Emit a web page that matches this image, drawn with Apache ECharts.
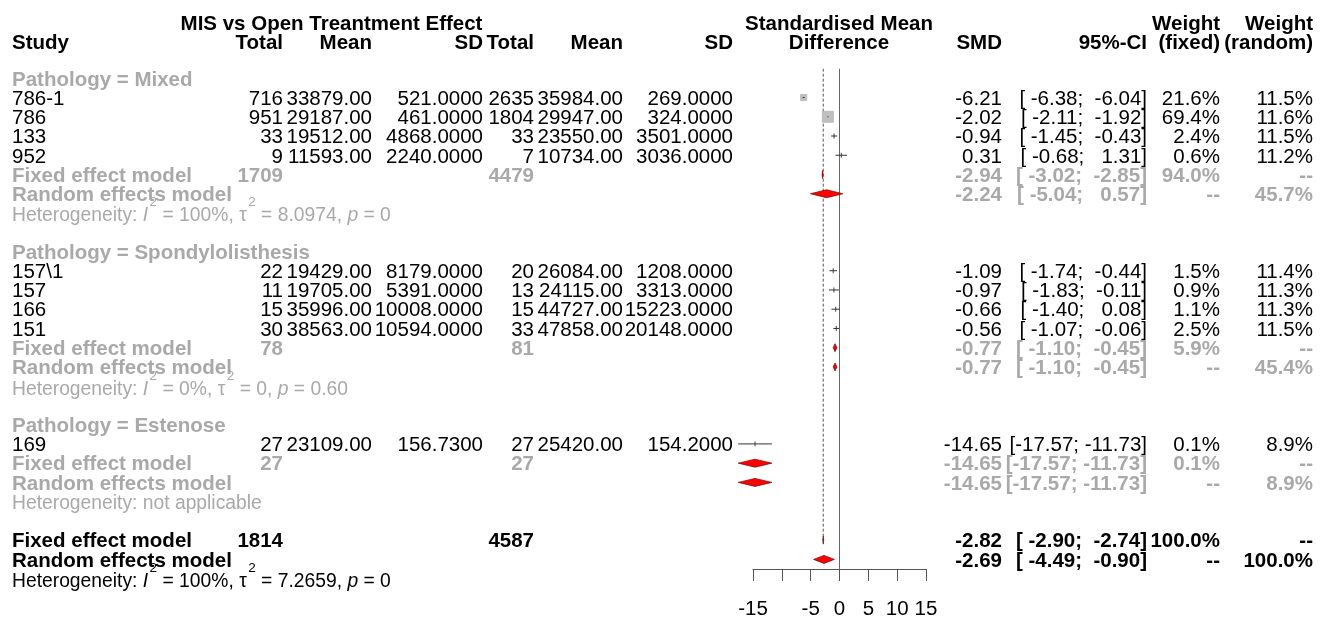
<!DOCTYPE html>
<html><head><meta charset="utf-8">
<script src="https://cdn.jsdelivr.net/npm/echarts@6/dist/echarts.min.js"></script>
<style>html,body{margin:0;padding:0;background:#fff}#c{width:1330px;height:620px}</style>
</head><body><div id="c"></div>
<script>
// ---------------- data ----------------
const groups = ['Mixed', 'Spondylolisthesis', 'Estenose'];
const studyNames = ['786-1', '786', '133', '952', '157\\1', '157', '166', '151', '169'];
const studyGroup = [0, 0, 0, 0, 1, 1, 1, 1, 2];
const expTotal = [716, 951, 33, 9, 22, 11, 15, 30, 27];
const expMean = [33879, 29187, 19512, 11593, 19429, 19705, 35996, 38563, 23109];
const expSD = [521, 461, 4868, 2240, 8179, 5391, 10008, 10594, 156.73];
const ctlTotal = [2635, 1804, 33, 7, 20, 13, 15, 33, 27];
const ctlMean = [35984, 29947, 23550, 10734, 26084, 24115, 44727, 47858, 25420];
const ctlSD = [269, 324, 3501, 3036, 1208, 3313, 15223, 20148, 154.2];
const smd = [-6.21, -2.02, -0.94, 0.31, -1.09, -0.97, -0.66, -0.56, -14.65];
const ciLow = [-6.38, -2.11, -1.45, -0.68, -1.74, -1.83, -1.40, -1.07, -17.57];
const ciHigh = [-6.04, -1.92, -0.43, 1.31, -0.44, -0.11, 0.08, -0.06, -11.73];
const weightFixed = [21.6, 69.4, 2.4, 0.6, 1.5, 0.9, 1.1, 2.5, 0.1];
const weightRandom = [11.5, 11.6, 11.5, 11.2, 11.4, 11.3, 11.3, 11.5, 8.9];

const subTotalExp = [1709, 78, 27];
const subTotalCtl = [4479, 81, 27];
const subFixedEst = [-2.94, -0.77, -14.65];
const subFixedLow = [-3.02, -1.10, -17.57];
const subFixedHigh = [-2.85, -0.45, -11.73];
const subFixedWeight = [94.0, 5.9, 0.1];
const subRandomEst = [-2.24, -0.77, -14.65];
const subRandomLow = [-5.04, -1.10, -17.57];
const subRandomHigh = [0.57, -0.45, -11.73];
const subRandomWeight = [45.7, 45.4, 8.9];
const subI2 = ['100%', '0%', null];
const subTau2 = ['8.0974', '0', null];
const subP = ['0', '0.60', null];

const overallTotalExp = 1814;
const overallTotalCtl = 4587;
const overallFixed = [-2.82, -2.90, -2.74];
const overallRandom = [-2.69, -4.49, -0.90];
const overallFixedWeight = 100.0;
const overallRandomWeight = 100.0;
const overallI2 = '100%', overallTau2 = '7.2659', overallP = '0';

const xTicks = [-15, -10, -5, 0, 5, 10, 15];
const xTickLabels = ['-15', '', '-5', '0', '5', '10', '15'];

// ---------------- layout / styles ----------------
const FF = '"Liberation Sans", Arial, Helvetica, sans-serif';
const FS = 20.5;
const FS_HET = 19.3;
const TEXT_DY = 1.6;
const HET_RICH_DY = -4;
const GREY = '#A9A9A9';
const STY = {
  n: { fill: '#000', fontWeight: 'normal' },
  b: { fill: '#000', fontWeight: 'bold' },
  g: { fill: GREY, fontWeight: 'normal' },
  gb: { fill: GREY, fontWeight: 'bold' }
};
const COL = {
  study: [12, 'left'], eT: [283, 'right'], eM: [372, 'right'], eS: [483, 'right'],
  cT: [534, 'right'], cM: [623, 'right'], cS: [733, 'right'], plot: [839, 'center'],
  smd: [1002, 'right'], ci: [1147, 'right'], wf: [1220, 'right'], wr: [1313, 'right'],
  title: [331.5, 'center']
};

const texts = [];
function addT(col, row, text, sty, kind) { texts.push({ col, row, text, sty, kind }); }
const pad6 = v => v.toFixed(2).padStart(6, ' ');
const ciStr = (lo, hi) => '[' + pad6(lo) + '; ' + pad6(hi) + ']';
const pct = v => v.toFixed(1) + '%';
function addHet(row, i2, tau2, p, sty) {
  if (i2 === null) { addT('study', row, 'Heterogeneity: not applicable', sty, 'het'); return; }
  const txt = '{n|Heterogeneity: }{it|I}{sup|2}{n| = ' + i2 + ', \u03C4}{sup|2}{n| = ' + tau2 + ', }{it|p}{n| = ' + p + '}';
  addT('study', row, txt, sty, 'hetRich');
}

// headers
const H1 = -2.87, H2 = -1.9;
addT('title', H1, 'MIS vs Open Treantment Effect', 'b');
addT('plot', H1, 'Standardised Mean', 'b');
addT('wf', H1, 'Weight', 'b');
addT('wr', H1, 'Weight', 'b');
addT('study', H2, 'Study', 'b');
addT('eT', H2, 'Total', 'b'); addT('eM', H2, 'Mean', 'b'); addT('eS', H2, 'SD', 'b');
addT('cT', H2, 'Total', 'b'); addT('cM', H2, 'Mean', 'b'); addT('cS', H2, 'SD', 'b');
addT('plot', H2, 'Difference', 'b');
addT('smd', H2, 'SMD', 'b'); addT('ci', H2, '95%-CI', 'b');
addT('wf', H2, '(fixed)', 'b'); addT('wr', H2, '(random)', 'b');

const studyData = [];
const diamondData = [];
let row = 0;
groups.forEach((g, gi) => {
  addT('study', row, 'Pathology = ' + g, 'gb');
  row++;
  studyNames.forEach((nm, i) => {
    if (studyGroup[i] !== gi) return;
    addT('study', row, nm, 'n');
    addT('eT', row, String(expTotal[i]), 'n');
    addT('eM', row, expMean[i].toFixed(2), 'n');
    addT('eS', row, expSD[i].toFixed(4), 'n');
    addT('cT', row, String(ctlTotal[i]), 'n');
    addT('cM', row, ctlMean[i].toFixed(2), 'n');
    addT('cS', row, ctlSD[i].toFixed(4), 'n');
    addT('smd', row, smd[i].toFixed(2), 'n');
    addT('ci', row, ciStr(ciLow[i], ciHigh[i]), 'n');
    addT('wf', row, pct(weightFixed[i]), 'n');
    addT('wr', row, pct(weightRandom[i]), 'n');
    studyData.push([row, smd[i], ciLow[i], ciHigh[i], weightFixed[i]]);
    row++;
  });
  addT('study', row, 'Fixed effect model', 'gb');
  addT('eT', row, String(subTotalExp[gi]), 'gb');
  addT('cT', row, String(subTotalCtl[gi]), 'gb');
  addT('smd', row, subFixedEst[gi].toFixed(2), 'gb');
  addT('ci', row, ciStr(subFixedLow[gi], subFixedHigh[gi]), 'gb');
  addT('wf', row, pct(subFixedWeight[gi]), 'gb');
  addT('wr', row, '--', 'gb');
  diamondData.push([row, subFixedEst[gi], subFixedLow[gi], subFixedHigh[gi]]);
  row++;
  addT('study', row, 'Random effects model', 'gb');
  addT('smd', row, subRandomEst[gi].toFixed(2), 'gb');
  addT('ci', row, ciStr(subRandomLow[gi], subRandomHigh[gi]), 'gb');
  addT('wf', row, '--', 'gb');
  addT('wr', row, pct(subRandomWeight[gi]), 'gb');
  diamondData.push([row, subRandomEst[gi], subRandomLow[gi], subRandomHigh[gi]]);
  row++;
  addHet(row, subI2[gi], subTau2[gi], subP[gi], 'g');
  row++;
  row++;
});
const overallFixedRow = row;
addT('study', row, 'Fixed effect model', 'b');
addT('eT', row, String(overallTotalExp), 'b');
addT('cT', row, String(overallTotalCtl), 'b');
addT('smd', row, overallFixed[0].toFixed(2), 'b');
addT('ci', row, ciStr(overallFixed[1], overallFixed[2]), 'b');
addT('wf', row, pct(overallFixedWeight), 'b');
addT('wr', row, '--', 'b');
diamondData.push([row, overallFixed[0], overallFixed[1], overallFixed[2]]);
row++;
addT('study', row, 'Random effects model', 'b');
addT('smd', row, overallRandom[0].toFixed(2), 'b');
addT('ci', row, ciStr(overallRandom[1], overallRandom[2]), 'b');
addT('wf', row, '--', 'b');
addT('wr', row, pct(overallRandomWeight), 'b');
diamondData.push([row, overallRandom[0], overallRandom[1], overallRandom[2]]);
row++;
addHet(row, overallI2, overallTau2, overallP, 'n');
row++;
const lastRow = row - 1;

const ROW_TOP = 78.3, ROW_H = 19.28;
const maxW = Math.max.apply(null, weightFixed);

const chart = echarts.init(document.getElementById('c'), null, { renderer: 'canvas' });
chart.setOption({
  animation: false,
  backgroundColor: '#fff',
  grid: {
    left: 753, width: 173,
    top: ROW_TOP - 0.5 * ROW_H,
    height: (lastRow) * ROW_H
  },
  xAxis: {
    type: 'value', min: -15, max: 15, interval: 5,
    axisLine: { show: true, onZero: false, lineStyle: { color: '#555', width: 1 } },
    axisTick: { show: true, length: 12, lineStyle: { color: '#555', width: 1 } },
    axisLabel: {
      show: true, interval: 0, margin: 30, color: '#000', fontSize: FS, fontFamily: FF,
      showMinLabel: true, showMaxLabel: true,
      formatter: v => { const i = xTicks.indexOf(v); return i >= 0 ? xTickLabels[i] : ''; }
    },
    splitLine: { show: false }
  },
  yAxis: {
    type: 'value', inverse: true, min: -0.5, max: lastRow - 0.5,
    show: false, splitLine: { show: false }
  },
  series: [
    {
      type: 'line', silent: true, symbol: 'none',
      data: [[0, -0.5], [0, lastRow - 0.5]],
      lineStyle: { color: '#666', width: 1 }, z: 1
    },
    {
      type: 'line', silent: true, symbol: 'none',
      data: [[overallFixed[0], -0.5], [overallFixed[0], overallFixedRow]],
      lineStyle: { color: '#555', width: 1, type: [3, 2] }, z: 1
    },
    {
      type: 'custom', silent: true, z: 3, clip: false,
      data: studyData,
      encode: { x: [1, 2, 3], y: 0 },
      renderItem: function (params, api) {
        const r = api.value(0), est = api.value(1), lo = api.value(2), hi = api.value(3), w = api.value(4);
        const pL = api.coord([lo, r]), pH = api.coord([hi, r]), pE = api.coord([est, r]);
        const s = 11 * Math.sqrt(w / maxW);
        const children = [];
        if (s >= 4) {
          children.push({ type: 'rect', shape: { x: pE[0] - s / 2, y: pE[1] - s / 2, width: s, height: s },
            style: { fill: '#BEBEBE', stroke: '#BEBEBE', lineWidth: 1 } });
        } else {
          children.push({ type: 'line', shape: { x1: pE[0], y1: pE[1] - 2.5, x2: pE[0], y2: pE[1] + 2.5 },
            style: { stroke: '#444', lineWidth: 1 } });
        }
        children.push({ type: 'line', shape: { x1: pL[0], y1: pL[1], x2: pH[0], y2: pH[1] },
          style: { stroke: '#333', lineWidth: 1 } });
        return { type: 'group', children: children };
      }
    },
    {
      type: 'custom', silent: true, z: 4, clip: false,
      data: diamondData,
      encode: { x: [1, 2, 3], y: 0 },
      renderItem: function (params, api) {
        const r = api.value(0), est = api.value(1), lo = api.value(2), hi = api.value(3);
        const pL = api.coord([lo, r]), pH = api.coord([hi, r]), pE = api.coord([est, r]);
        const h = 4;
        return {
          type: 'polygon',
          shape: { points: [[pL[0], pL[1]], [pE[0], pE[1] - h], [pH[0], pH[1]], [pE[0], pE[1] + h]] },
          style: { fill: '#FF0000', stroke: '#7a0000', lineWidth: 0.7 }
        };
      }
    }
  ]
});

const els = texts.map(t => {
  const c = COL[t.col];
  let y = chart.convertToPixel({ yAxisIndex: 0 }, t.row) + TEXT_DY;
  const st = STY[t.sty];
  const fs = (t.kind === 'het' || t.kind === 'hetRich') ? FS_HET : FS;
  const style = {
    text: t.text, fill: st.fill, fontSize: fs, fontFamily: FF, fontWeight: st.fontWeight,
    textAlign: c[1], textVerticalAlign: 'middle', align: c[1], verticalAlign: 'middle'
  };
  if (t.kind === 'hetRich') {
    y += HET_RICH_DY;
    const base = { fill: st.fill, fontSize: fs, fontFamily: FF, fontWeight: st.fontWeight };
    style.rich = {
      n: Object.assign({ lineHeight: 30, verticalAlign: 'bottom' }, base),
      it: Object.assign({ lineHeight: 30, verticalAlign: 'bottom', fontStyle: 'italic' }, base),
      sup: { fill: st.fill, fontSize: 13.5, fontFamily: FF, lineHeight: 17, verticalAlign: 'top', padding: [0, 0, 0, 1.5] }
    };
  }
  return { type: 'text', x: c[0], y: y, silent: true, z: 10, style: style };
});
chart.setOption({ graphic: { elements: els } });
</script>
</body></html>
